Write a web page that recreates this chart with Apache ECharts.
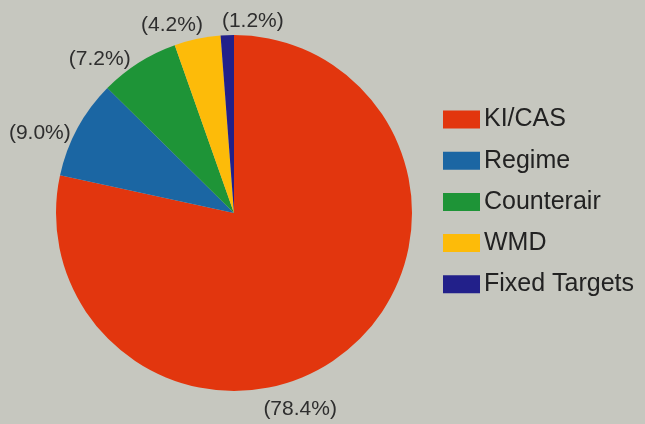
<!DOCTYPE html>
<html>
<head>
<meta charset="utf-8">
<script src="https://cdn.jsdelivr.net/npm/echarts@6/dist/echarts.min.js"></script>
<style>
  html, body { margin: 0; padding: 0; background: #c6c7bf; }
  #chart { width: 645px; height: 424px; }
</style>
</head>
<body>
<div id="chart"></div>
<script>
// Mission shares, clockwise from 12 o'clock
const categories = ['KI/CAS', 'Regime', 'Counterair', 'WMD', 'Fixed Targets'];
const shares = [78.4, 9.0, 7.2, 4.2, 1.2];
const sliceColors = ['#e2360e', '#1b66a3', '#1e9437', '#fdbb09', '#22208a'];

const pieCenter = [234, 213];
const pieRadius = 178;

// Where each percentage label sits around the pie: angle clockwise from
// 12 o'clock (degrees) and distance from the centre as a multiple of the radius.
const labelPlacement = [
  { angle: 161.4, dist: 1.165 },
  { angle: 292.4, dist: 1.18 },
  { angle: 318.8, dist: 1.145 },
  { angle: 341.7, dist: 1.11 },
  { angle: 5.6,   dist: 1.085 }
];

const chart = echarts.init(document.getElementById('chart'), null, { renderer: 'canvas' });

const data = categories.map((name, i) => ({
  name: name,
  value: shares[i],
  itemStyle: { color: sliceColors[i] }
}));

const FONT = 'Liberation Sans, Arial, Helvetica, sans-serif';

chart.setOption({
  backgroundColor: '#c6c7bf',
  animation: false,
  legend: {
    orient: 'vertical',
    left: 438,
    top: 102,
    itemWidth: 37,
    itemHeight: 18,
    itemGap: 16.2,
    itemStyle: { borderWidth: 0 },
    icon: 'rect',
    textStyle: {
      color: '#222',
      fontSize: 25,
      lineHeight: 25,
      fontFamily: FONT,
      padding: [0, 0, 0, -1]
    },
    data: categories
  },
  series: [{
    type: 'pie',
    center: pieCenter,
    radius: [0, pieRadius],
    startAngle: 90,
    clockwise: true,
    silent: true,
    data: data,
    label: {
      show: true,
      position: 'outside',
      overflow: 'none',
      formatter: p => '(' + p.value.toFixed(1) + '%)',
      color: '#2e2e2e',
      fontSize: 21,
      fontFamily: FONT
    },
    labelLine: { show: false },
    labelLayout: function (params) {
      const pl = labelPlacement[params.dataIndex];
      const a = pl.angle * Math.PI / 180;
      const r = pieRadius * pl.dist;
      return {
        x: pieCenter[0] + r * Math.sin(a),
        y: pieCenter[1] - r * Math.cos(a),
        align: 'center',
        verticalAlign: 'middle'
      };
    },
    itemStyle: { borderWidth: 0 }
  }]
});
</script>
</body>
</html>
